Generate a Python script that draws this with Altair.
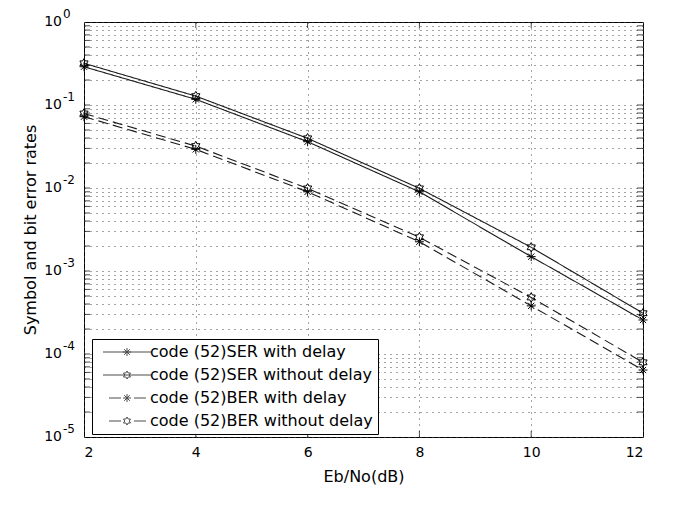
import altair as alt
import pandas as pd

# ---- data ----
ebno = [2, 4, 6, 8, 10, 12]
ser_with_delay = [0.289, 0.117, 0.0361, 0.0090, 0.00149, 0.000257]
ser_without_delay = [0.318, 0.128, 0.0397, 0.0099, 0.00193, 0.00031]
ber_with_delay = [0.0723, 0.0292, 0.0090, 0.00225, 0.00038, 0.0000641]
ber_without_delay = [0.0790, 0.0320, 0.0099, 0.00255, 0.00048, 0.0000794]

series_names = [
    "code (52)SER with delay",
    "code (52)SER without delay",
    "code (52)BER with delay",
    "code (52)BER without delay",
]
series_styles = ["solid", "solid", "dashed", "dashed"]
series_markers = ["star", "hex", "star", "hex"]

x_ticks = [2, 4, 6, 8, 10, 12]
decade_exponents = [0, -1, -2, -3, -4, -5]
minor_multipliers = [1, 2, 3, 4, 5, 6, 7, 8, 9]

# ---- tables ----
rows = []
for name, vals, st, mk in zip(series_names,
                              [ser_with_delay, ser_without_delay, ber_with_delay, ber_without_delay],
                              series_styles, series_markers):
    for x, v in zip(ebno, vals):
        rows.append({"x": x, "y": v, "series": name, "style": st, "marker": mk})
df = pd.DataFrame(rows)

grid_vals = sorted({m * 10.0 ** e for e in decade_exponents[1:] for m in minor_multipliers} | {1.0})
inner_grid = [v for v in grid_vals if 1e-5 < v < 1.0]
ytick_df = pd.DataFrame({"v": inner_grid})
xtick_df = pd.DataFrame({"x": x_ticks[1:-1]})
dec_df = pd.DataFrame({"v": [10.0 ** e for e in decade_exponents],
                       "base": ["10"] * len(decade_exponents),
                       "exp": [str(e) for e in decade_exponents]})

W, H = 559, 415
FONT = "DejaVu Sans"
GRID = "#444444"

STAR = "M0,-1V1M-1,0H1M-0.7,-0.7L0.7,0.7M-0.7,0.7L0.7,-0.7"
HEX = ("M0,-1L0.289,-0.5L0.866,-0.5L0.577,0L0.866,0.5L0.289,0.5L0,1"
       "L-0.289,0.5L-0.866,0.5L-0.577,0L-0.866,-0.5L-0.289,-0.5Z")
SOLID = "M-6,0H6"
DASHED = "M-4.5,0H-1.5M1.75,0H4.75"
legend_paths = [SOLID + STAR, SOLID + HEX, DASHED + STAR, DASHED + HEX]

xscale = alt.Scale(domain=[2, 12], nice=False, zero=False)
yscale = alt.Scale(type="log", domain=[1e-5, 1], nice=False)

xaxis = alt.Axis(values=x_ticks, grid=True, gridColor=GRID, gridDash=[1, 5], gridOpacity=1,
                 ticks=False, tickSize=0, domain=False, labelFont=FONT, labelFontSize=14,
                 labelColor="black", labelPadding=8, title="Eb/No(dB)", titleFont=FONT,
                 titleFontSize=16, titleFontWeight="normal", titleColor="black", titlePadding=9)
yaxis = alt.Axis(values=grid_vals, grid=True, gridColor=GRID, gridDash=[1, 5], gridOpacity=1,
                 ticks=False, tickSize=0, domain=False, labels=False,
                 title="Symbol and bit error rates", titleFont=FONT, titleFontSize=16,
                 titleFontWeight="normal", titleColor="black", titleX=-54, titleY=H / 2,
                 titleAngle=270, titleAlign="center", titleBaseline="middle")

base = alt.Chart(df)

lines = base.mark_line(color="#1a1a1a", strokeWidth=1.1).encode(
    x=alt.X("x:Q", scale=xscale, axis=xaxis),
    y=alt.Y("y:Q", scale=yscale, axis=yaxis),
    detail="series:N",
    strokeDash=alt.StrokeDash("style:N", scale=alt.Scale(domain=["solid", "dashed"],
                                                         range=[[1, 0], [10, 5]]), legend=None),
)

stars = base.transform_filter(alt.datum.marker == "star").mark_point(
    shape=STAR, size=80, color="black", strokeWidth=1, filled=False, opacity=1
).encode(x=alt.X("x:Q", scale=xscale), y=alt.Y("y:Q", scale=yscale))

hexes = base.transform_filter(alt.datum.marker == "hex").mark_point(
    shape=HEX, size=90, color="black", strokeWidth=1, filled=False, opacity=1
).encode(x=alt.X("x:Q", scale=xscale), y=alt.Y("y:Q", scale=yscale))

legend_layer = base.transform_filter("false").mark_point(filled=False, color="black").encode(
    x=alt.X("x:Q", scale=xscale),
    y=alt.Y("y:Q", scale=yscale),
    shape=alt.Shape("series:N", scale=alt.Scale(domain=series_names, range=legend_paths),
                    legend=alt.Legend(orient="none", legendX=8, legendY=317, title=None,
                                      symbolSize=64, symbolStrokeWidth=1,
                                      symbolStrokeColor="black", symbolFillColor="transparent",
                                      symbolOffset=22, labelOffset=15, labelLimit=0,
                                      labelFont=FONT, labelFontSize=16, labelColor="black",
                                      padding=5, rowPadding=7, fillColor="white",
                                      strokeColor="black")),
)

yt_left = alt.Chart(ytick_df).mark_tick(orient="horizontal", size=6, thickness=1, color="black").encode(
    y=alt.Y("v:Q", scale=yscale), x=alt.value(3))
yt_right = alt.Chart(ytick_df).mark_tick(orient="horizontal", size=6, thickness=1, color="black").encode(
    y=alt.Y("v:Q", scale=yscale), x=alt.value(W - 3))
xt_bottom = alt.Chart(xtick_df).mark_tick(orient="vertical", size=6, thickness=1, color="black").encode(
    x=alt.X("x:Q", scale=xscale), y=alt.value(H - 3))
xt_top = alt.Chart(xtick_df).mark_tick(orient="vertical", size=6, thickness=1, color="black").encode(
    x=alt.X("x:Q", scale=xscale), y=alt.value(3))

lab_base = alt.Chart(dec_df).mark_text(align="right", baseline="middle", font=FONT, fontSize=14,
                                        color="black").encode(
    y=alt.Y("v:Q", scale=yscale), x=alt.value(-22), text="base:N")
lab_exp = alt.Chart(dec_df).mark_text(align="left", baseline="middle", font=FONT, fontSize=12,
                                       color="black", dy=-8).encode(
    y=alt.Y("v:Q", scale=yscale), x=alt.value(-21), text="exp:N")

chart = alt.layer(
    lines, stars, hexes, legend_layer, yt_left, yt_right, xt_bottom, xt_top, lab_base, lab_exp
).properties(
    width=W, height=H,
    autosize=alt.AutoSizeParams(type="none"),
    padding={"left": 76, "top": 14, "right": 34, "bottom": 60},
    background="white",
).configure_view(stroke="black", strokeWidth=1)

chart.save("out.html", embed_options={"renderer": "svg", "actions": False})
